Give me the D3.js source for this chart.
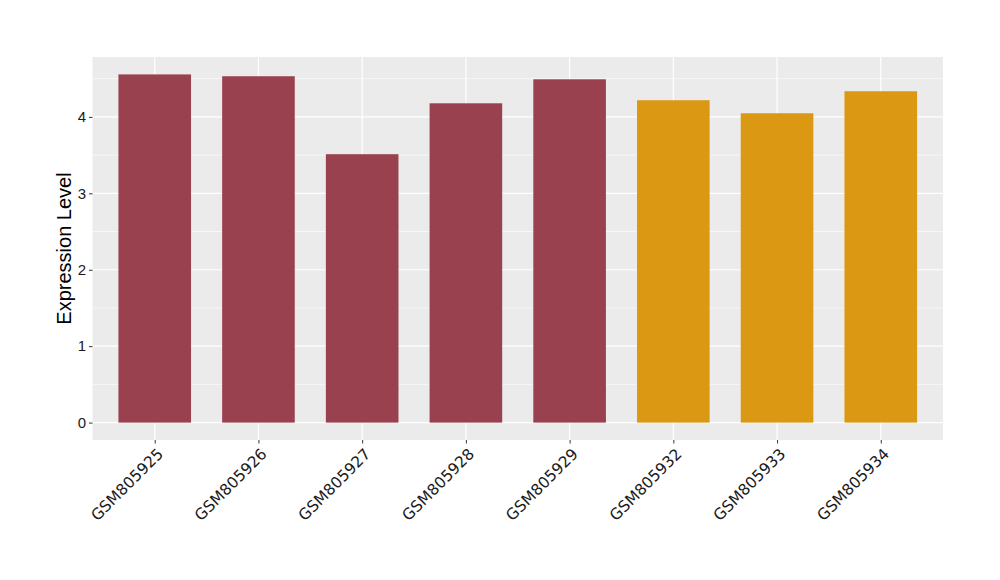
<!DOCTYPE html>
<html lang="en">
	<head>
		<meta charset="utf-8">
		<title>Expression Level bar chart</title>
		<script type="text/javascript" src="https://cdn.jsdelivr.net/npm/d3@7"></script>
		<style type="text/css">
			body { margin: 0; background: #fff; }
		</style>
	</head>
	<body>
		<script type="text/javascript">

			//Width and height
			var w = 1000;
			var h = 580;

			//Panel edges
			var padLeft = 92.5, padRight = 943, padTop = 57, padBottom = 440;

			//Data
			var samples = ["GSM805925", "GSM805926", "GSM805927", "GSM805928",
			               "GSM805929", "GSM805932", "GSM805933", "GSM805934"];
			var values = [4.556, 4.532, 3.512, 4.178, 4.492, 4.218, 4.048, 4.336];
			var groups = ["A", "A", "A", "A", "A", "B", "B", "B"];
			var yTicks = [0, 1, 2, 3, 4];

			var colors = { A: "#99414F", B: "#DB9913" };

			var dataset = samples.map(function(s, i) {
				return { name: s, value: values[i], group: groups[i] };
			});

			//ggplot-like expansion: 0.6 units on discrete axis, 5% on continuous
			var n = samples.length;
			var unit = (padRight - padLeft) / (n - 1 + 1.2);
			var xScale = d3.scalePoint()
						.domain(samples)
						.range([padLeft + 0.6 * unit, padRight - 0.6 * unit]);
			var barW = unit * 0.7;

			var maxV = d3.max(values);
			var yScale = d3.scaleLinear()
						.domain([-maxV * 0.05, maxV * 1.05])
						.range([padBottom, padTop]);

			var svg = d3.select("body")
						.append("svg")
						.attr("width", w)
						.attr("height", h);

			//Panel background
			svg.append("rect")
				.attr("x", padLeft)
				.attr("y", padTop)
				.attr("width", padRight - padLeft)
				.attr("height", padBottom - padTop)
				.attr("fill", "#EBEBEB");

			//Minor gridlines
			var minor = d3.range(0.5, maxV * 1.05, 1);
			svg.selectAll("line.minor")
				.data(minor)
				.enter()
				.append("line")
				.attr("class", "minor")
				.attr("x1", padLeft).attr("x2", padRight)
				.attr("y1", function(d) { return yScale(d); })
				.attr("y2", function(d) { return yScale(d); })
				.attr("stroke", "#fff")
				.attr("stroke-width", 0.6);

			//Major gridlines
			svg.selectAll("line.major")
				.data(yTicks)
				.enter()
				.append("line")
				.attr("class", "major")
				.attr("x1", padLeft).attr("x2", padRight)
				.attr("y1", function(d) { return yScale(d); })
				.attr("y2", function(d) { return yScale(d); })
				.attr("stroke", "#fff")
				.attr("stroke-width", 1.2);

			svg.selectAll("line.vgrid")
				.data(samples)
				.enter()
				.append("line")
				.attr("class", "vgrid")
				.attr("x1", function(d) { return xScale(d); })
				.attr("x2", function(d) { return xScale(d); })
				.attr("y1", padTop).attr("y2", padBottom)
				.attr("stroke", "#fff")
				.attr("stroke-width", 1.2);

			//Bars
			svg.selectAll("rect.bar")
				.data(dataset)
				.enter()
				.append("rect")
				.attr("class", "bar")
				.attr("x", function(d) { return xScale(d.name) - barW / 2; })
				.attr("y", function(d) { return yScale(d.value); })
				.attr("width", barW)
				.attr("height", function(d) { return yScale(0) - yScale(d.value); })
				.attr("fill", function(d) { return colors[d.group]; });

			//Y axis
			var yAxis = d3.axisLeft(yScale)
						.tickValues(yTicks)
						.tickFormat(d3.format("d"))
						.tickSize(3.5)
						.tickPadding(3);
			var gy = svg.append("g")
				.attr("transform", "translate(" + padLeft + ",0)")
				.call(yAxis);
			gy.select(".domain").remove();
			gy.selectAll(".tick line").attr("stroke", "#333");
			gy.selectAll(".tick text")
				.style("font-size", "15px")
				.style("font-family", "'Liberation Sans', Arial, sans-serif")
				.attr("fill", "#1a1a1a");

			//X axis
			var xAxis = d3.axisBottom(xScale)
						.tickSize(3.5)
						.tickPadding(3);
			var gx = svg.append("g")
				.attr("transform", "translate(0," + padBottom + ")")
				.call(xAxis);
			gx.select(".domain").remove();
			gx.selectAll(".tick line").attr("stroke", "#333");
			gx.selectAll(".tick text")
				.attr("x", 0)
				.attr("y", 0)
				.style("font-size", "15.5px")
				.style("font-family", "'DejaVu Sans', sans-serif")
				.attr("fill", "#1a1a1a")
				.attr("text-anchor", "end")
				.attr("dy", "0.72em")
				.attr("transform", "translate(1,7) rotate(-45)");

			//Y label
			svg.append("text")
				.attr("transform", "translate(71," + ((padTop + padBottom) / 2) + ") rotate(-90)")
				.attr("text-anchor", "middle")
				.style("font-size", "20px")
				.style("font-family", "'Liberation Sans', Arial, sans-serif")
				.attr("fill", "#000")
				.text("Expression Level");

		</script>
	</body>
</html>
